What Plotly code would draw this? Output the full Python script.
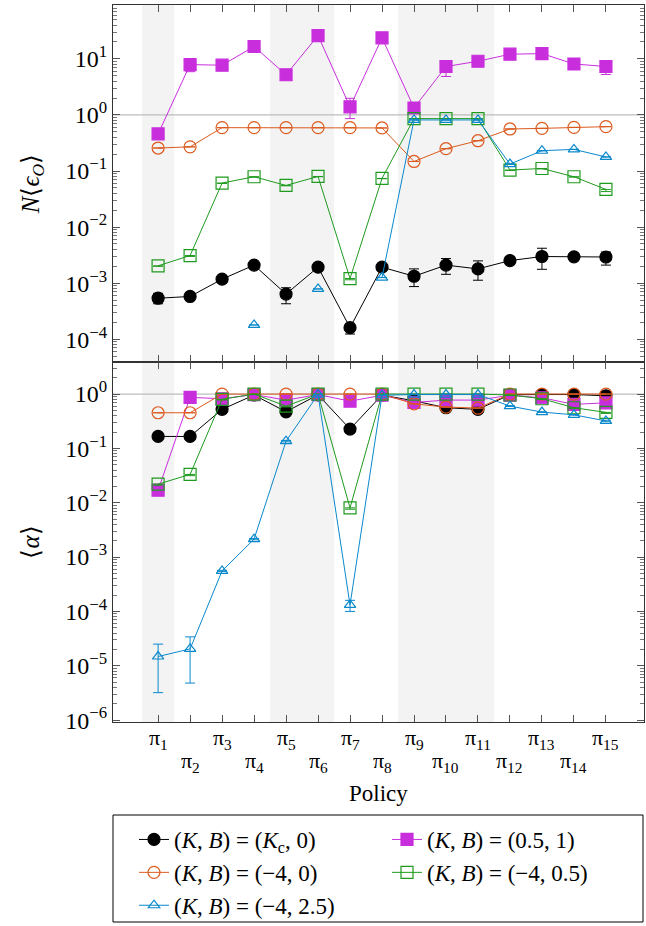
import plotly.graph_objects as go
import numpy as np

# ---------------- data ----------------
x = list(range(1, 16))
xtick_labels = ["π<sub>%d</sub>" % i for i in x]

names = [
    "(<i>K</i>, <i>B</i>) = (<i>K</i><sub>c</sub>, 0)",
    "(<i>K</i>, <i>B</i>) = (0.5, 1)",
    "(<i>K</i>, <i>B</i>) = (−4, 0)",
    "(<i>K</i>, <i>B</i>) = (−4, 0.5)",
    "(<i>K</i>, <i>B</i>) = (−4, 2.5)",
]

# top panel: N<eps_O>
top_kc0 = [5.4e-4, 5.8e-4, 1.18e-3, 2.1e-3, 6.4e-4, 1.93e-3, 1.61e-4, 1.93e-3, 1.33e-3, 2.1e-3, 1.8e-3, 2.53e-3, 2.99e-3, 2.95e-3, 2.93e-3]
top_kc0_hi = [6.6e-4, 6.1e-4, 1.24e-3, 2.2e-3, 8.3e-4, 2.25e-3, 1.66e-4, 2.0e-3, 1.8e-3, 2.75e-3, 2.5e-3, 2.8e-3, 4.2e-3, 3.1e-3, 3.6e-3]
top_kc0_lo = [4.3e-4, 5.5e-4, 1.12e-3, 2.0e-3, 4.3e-4, 1.85e-3, 1.24e-4, 1.86e-3, 8.7e-4, 1.44e-3, 1.13e-3, 2.2e-3, 1.77e-3, 2.8e-3, 2.1e-3]

top_m = [0.458, 7.9, 7.7, 16.6, 5.2, 26.0, 1.39, 23.7, 1.33, 7.3, 9.06, 12.1, 12.4, 8.1, 7.3]
top_m_hi = [0.47, 8.2, 7.9, 17.0, 5.3, 26.5, 1.98, 24.2, 1.36, 9.3, 9.3, 12.4, 12.7, 8.4, 7.9]
top_m_lo = [0.45, 5.9, 7.5, 16.2, 5.1, 25.5, 0.86, 23.2, 1.30, 4.85, 8.8, 11.8, 12.1, 7.8, 5.25]

top_o = [0.257, 0.27, 0.593, 0.593, 0.593, 0.593, 0.593, 0.586, 0.148, 0.25, 0.347, 0.562, 0.576, 0.60, 0.618]
top_g = [2.04e-3, 3.11e-3, 0.061, 0.079, 0.0553, 0.080, 1.21e-3, 0.0738, 0.86, 0.86, 0.86, 0.104, 0.111, 0.079, 0.047]
top_g_lo = [2.0e-3, 3.0e-3, 0.060, 0.078, 0.0545, 0.079, 1.15e-3, 0.073, 0.85, 0.85, 0.85, 0.102, 0.109, 0.078, 0.043]
top_b = [None, None, None, 1.8e-4, None, 7.9e-4, None, 1.26e-3, 0.814, 0.814, 0.814, 0.133, 0.23, 0.243, 0.178]

# bottom panel: <alpha>
bot_kc0 = [0.166, 0.166, 0.523, 0.96, 0.472, 0.97, 0.227, 0.96, 0.75, 0.56, 0.523, 0.97, 0.98, 0.98, 0.93]
bot_m = [0.017, 0.87, 0.82, 0.98, 0.775, 0.98, 0.74, 0.95, 0.70, 0.775, 0.775, 0.95, 0.855, 0.646, 0.69]
bot_o = [0.453, 0.453, 1.0, 1.0, 1.0, 1.0, 1.0, 1.0, 0.66, 0.576, 0.552, 1.0, 1.0, 1.0, 1.0]
bot_g = [0.022, 0.0332, 0.80, 1.0, 0.60, 1.0, 8.05e-3, 1.0, 1.0, 1.0, 1.0, 0.96, 0.82, 0.56, 0.46]
bot_g_lo = [0.021, 0.0315, 0.78, 0.98, 0.58, 0.98, 7.6e-3, 0.98, 0.98, 0.98, 0.98, 0.94, 0.80, 0.54, 0.44]
bot_b = [1.48e-5, 2.04e-5, 5.57e-4, 2.14e-3, 0.136, 0.98, 1.32e-4, 0.95, 0.98, 0.98, 0.98, 0.60, 0.466, 0.415, 0.32]
bot_b_hi = [2.5e-5, 3.4e-5, 5.7e-4, 2.2e-3, 0.14, 0.99, 1.6e-4, 0.96, 0.99, 0.99, 0.99, 0.61, 0.47, 0.42, 0.33]
bot_b_lo = [3.2e-6, 4.8e-6, 5.4e-4, 2.08e-3, 0.132, 0.97, 1.0e-4, 0.94, 0.97, 0.97, 0.97, 0.59, 0.46, 0.41, 0.31]

shade_bands = [(0.5, 1.5), (4.5, 6.5), (8.5, 11.5)]

top_ytick_vals = [1e-4, 1e-3, 1e-2, 1e-1, 1, 10]
top_ytick_text = ["10<sup>−4</sup>", "10<sup>−3</sup>", "10<sup>−2</sup>", "10<sup>−1</sup>", "10<sup>0</sup>", "10<sup>1</sup>"]
bot_ytick_vals = [1e-6, 1e-5, 1e-4, 1e-3, 1e-2, 1e-1, 1]
bot_ytick_text = ["10<sup>−6</sup>", "10<sup>−5</sup>", "10<sup>−4</sup>", "10<sup>−3</sup>", "10<sup>−2</sup>", "10<sup>−1</sup>", "10<sup>0</sup>"]

# ---------------- styles ----------------
C_BLACK = "#000000"
C_MAG = "#c82edc"
C_ORA = "#dc5a1e"
C_GRN = "#1e9a1e"
C_BLU = "#0a88cc"
FONT = "Liberation Serif"

W, H = 646, 926
ML, MR, MT, MB = 113, 2, 5, 204
PH = H - MT - MB
PW = W - ML - MR


def py(pix):
    """pixel row -> paper y"""
    return (H - MB - pix) / PH


def err(vals, hi=None, lo=None):
    v = np.array([np.nan if a is None else a for a in vals], dtype=float)
    h = v if hi is None else np.array(hi, dtype=float)
    l = v if lo is None else np.array(lo, dtype=float)
    return dict(type="data", symmetric=False, array=list(h - v), arrayminus=list(v - l),
                thickness=1, width=5)


specs = [
    (names[0], C_BLACK, "circle", 12, top_kc0, top_kc0_hi, top_kc0_lo, bot_kc0, None, None),
    (names[1], C_MAG, "square", 12, top_m, top_m_hi, top_m_lo, bot_m, None, None),
    (names[2], C_ORA, "circle-open", 12, top_o, None, None, bot_o, None, None),
    (names[3], C_GRN, "square-open", 12, top_g, None, top_g_lo, bot_g, None, bot_g_lo),
    (names[4], C_BLU, "triangle-up-open", 10, top_b, None, None, bot_b, bot_b_hi, bot_b_lo),
]

fig = go.Figure()
for name, col, sym, sz, tv, th, tl, bv, bh, bl in specs:
    mk = dict(symbol=sym, size=sz, color=col, line=dict(color=col, width=1.2))
    e1 = err(tv, th, tl)
    e1["color"] = col
    fig.add_trace(go.Scatter(x=x, y=tv, mode="lines+markers", name=name, marker=mk,
                             line=dict(color=col, width=1), error_y=e1,
                             xaxis="x", yaxis="y", legendgroup=name, connectgaps=False))
    e2 = err(bv, bh, bl)
    e2["color"] = col
    fig.add_trace(go.Scatter(x=x, y=bv, mode="lines+markers", name=name, marker=mk,
                             line=dict(color=col, width=1), error_y=e2,
                             xaxis="x2", yaxis="y2", legendgroup=name, showlegend=False))

shapes = []
for a, b in shade_bands:
    shapes.append(dict(type="rect", xref="x", yref="paper", x0=a, x1=b, y0=0, y1=1,
                       fillcolor="#f3f3f3", line=dict(width=0), layer="below"))
shapes.append(dict(type="line", xref="x domain", yref="y", x0=0, x1=1, y0=1, y1=1,
                   line=dict(color="#bdbdbd", width=1.2), layer="below"))
shapes.append(dict(type="line", xref="x2 domain", yref="y2", x0=0, x1=1, y0=1, y1=1,
                   line=dict(color="#bdbdbd", width=1.2), layer="below"))
# legend frame
shapes.append(dict(type="rect", xref="paper", yref="paper", x0=0, x1=(643 - ML) / PW,
                   y0=py(922), y1=py(815), line=dict(color="black", width=1), fillcolor="rgba(0,0,0,0)"))

annotations = []
for i, lab in zip(x, xtick_labels):
    annotations.append(dict(x=i, xref="x2", y=py(739 if i % 2 == 1 else 762), yref="paper",
                            text=lab, showarrow=False, font=dict(size=22), xanchor="center",
                            yanchor="middle"))
annotations.append(dict(x=0.5, xref="paper", y=py(793), yref="paper", text="Policy",
                        showarrow=False, font=dict(size=23), xanchor="center", yanchor="middle"))


def minor_vals(lo, hi):
    return [m * 10.0 ** d for d in range(lo, hi) for m in range(2, 10)]


split = (H - MB - 362) / PH
XR = [-0.41, 16.19]
axis_common = dict(showline=True, linecolor="#333333", linewidth=1.3, mirror="ticks",
                   ticks="inside", tickcolor="#555555", ticklen=7, showgrid=False,
                   zeroline=False, automargin=False)

fig.update_layout(
    width=W, height=H,
    margin=dict(l=ML, r=MR, t=MT, b=MB, autoexpand=False),
    paper_bgcolor="white", plot_bgcolor="white",
    font=dict(family=FONT, size=18, color="black"),
    shapes=shapes,
    annotations=annotations,
    xaxis=dict(domain=[0, 1], anchor="y", range=XR, tickvals=x, showticklabels=False, **axis_common),
    xaxis2=dict(domain=[0, 1], anchor="y2", range=XR, tickvals=x, showticklabels=False, **axis_common),
    yaxis=dict(domain=[split, 1], anchor="x", type="log", range=[-4.405, 1.96],
               tickvals=top_ytick_vals, ticktext=top_ytick_text, tickfont=dict(size=24),
               minor=dict(tickvals=minor_vals(-5, 2), ticks="inside", ticklen=4, tickcolor="#777777"),
               title=dict(text="<i>N</i>⟨<i>ϵ</i><sub><i>O</i></sub>⟩", font=dict(size=25), standoff=18),
               **axis_common),
    yaxis2=dict(domain=[0, split], anchor="x2", type="log", range=[-6.035, 0.59],
                tickvals=bot_ytick_vals, ticktext=bot_ytick_text, tickfont=dict(size=24),
                minor=dict(tickvals=minor_vals(-7, 1), ticks="inside", ticklen=4, tickcolor="#777777"),
                title=dict(text="⟨<i>α</i>⟩", font=dict(size=25), standoff=18),
                **axis_common),
    legend=dict(orientation="h", x=21 / PW, xanchor="left", xref="paper",
                y=1 - 818 / H, yref="container", yanchor="top",
                borderwidth=0, bgcolor="rgba(0,0,0,0)",
                entrywidth=208, entrywidthmode="pixels", font=dict(size=23),
                traceorder="normal"),
    showlegend=True,
)

fig.write_html("out.html")
